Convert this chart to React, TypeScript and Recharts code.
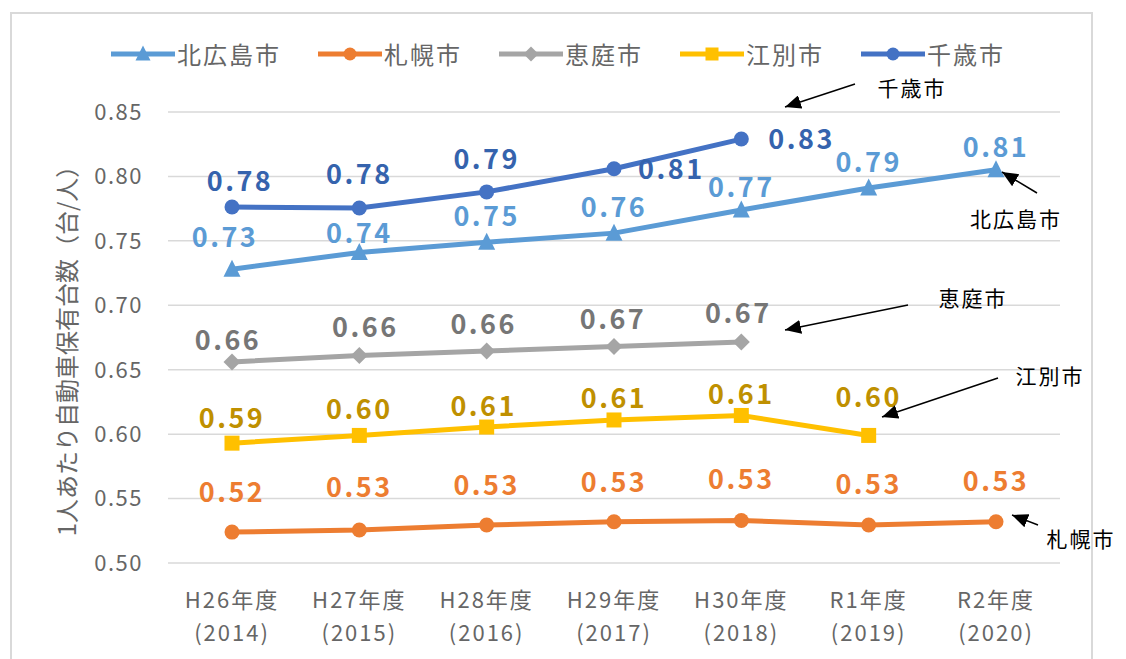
import { LineChart, Line, XAxis, YAxis, CartesianGrid, LabelList } from "recharts";

const periods = ["H26年度", "H27年度", "H28年度", "H29年度", "H30年度", "R1年度", "R2年度"];
const years = ["(2014)", "(2015)", "(2016)", "(2017)", "(2018)", "(2019)", "(2020)"];

const kitahiroshima = [0.728, 0.741, 0.749, 0.756, 0.774, 0.791, 0.8052];
const sapporo = [0.524, 0.5256, 0.5295, 0.532, 0.533, 0.5295, 0.532];
const eniwa = [0.656, 0.661, 0.6645, 0.668, 0.6715, null, null];
const ebetsu = [0.593, 0.599, 0.6055, 0.611, 0.6145, 0.599, null];
const chitose = [0.7763, 0.7755, 0.788, 0.806, 0.829, null, null];

const yTicks = [0.5, 0.55, 0.6, 0.65, 0.7, 0.75, 0.8, 0.85];

const FONT = '"Noto Sans CJK JP", "Noto Sans", sans-serif';

// label offsets from each point: [dx, dy, anchor]
type Off = [number, number, ("middle" | "start")?];
const chitoseOff: Off[] = [[8, -27], [0, -35], [0, -34], [24, -1, "start"], [27, -2, "start"]];
const kitaOff: Off[] = [[-7, -34], [0, -21], [0, -28], [0, -28], [0, -24], [0, -28], [0, -24]];
const eniwaOff: Off[] = [[-4, -23], [6, -30], [-3, -29], [-1, -29], [-3, -31]];
const ebetsuOff: Off[] = [[0, -27], [0, -28], [-3, -23], [0, -23], [0, -23], [0, -40]];
const sapporoOff: Off[] = [[0, -42], [0, -45], [0, -41], [0, -41], [0, -43], [0, -42], [0, -42]];

const series = [
  { key: "kita", name: "北広島市", color: "#5B9BD5", labelColor: "#5B9BD5", shape: "triangle", values: kitahiroshima, off: kitaOff },
  { key: "sapporo", name: "札幌市", color: "#ED7D31", labelColor: "#ED7D31", shape: "circle", values: sapporo, off: sapporoOff },
  { key: "eniwa", name: "恵庭市", color: "#A5A5A5", labelColor: "#767676", shape: "diamond", values: eniwa, off: eniwaOff },
  { key: "ebetsu", name: "江別市", color: "#FFC000", labelColor: "#BF9000", shape: "square", values: ebetsu, off: ebetsuOff },
  { key: "chitose", name: "千歳市", color: "#4472C4", labelColor: "#3563AD", shape: "circle", values: chitose, off: chitoseOff },
];

const data = periods.map((p, i) => {
  const row: Record<string, any> = { period: p };
  series.forEach((s) => (row[s.key] = s.values[i]));
  return row;
});

const notes = [
  { text: "千歳市", tx: 912, ty: 87, x1: 855, y1: 84, x2: 785, y2: 107 },
  { text: "北広島市", tx: 1016, ty: 218, x1: 1037, y1: 193, x2: 1002, y2: 172 },
  { text: "恵庭市", tx: 973, ty: 297, x1: 908, y1: 305, x2: 785, y2: 330 },
  { text: "江別市", tx: 1050, ty: 375, x1: 998, y1: 378, x2: 882, y2: 417 },
  { text: "札幌市", tx: 1081, ty: 538, x1: 1038, y1: 525, x2: 1012, y2: 515 },
];

function Marker({ shape, cx, cy, color, size = 15 }: any) {
  const h = size / 2;
  if (shape === "circle") return <circle cx={cx} cy={cy} r={h} fill={color} />;
  if (shape === "square") return <rect x={cx - h} y={cy - h} width={size} height={size} fill={color} />;
  if (shape === "diamond")
    return <polygon points={`${cx},${cy - h - 1} ${cx + h + 1},${cy} ${cx},${cy + h + 1} ${cx - h - 1},${cy}`} fill={color} />;
  return <polygon points={`${cx},${cy - h - 2} ${cx + h + 1},${cy + h} ${cx - h - 1},${cy + h}`} fill={color} />;
}

function XTick({ x, y, index }: any) {
  // y is the tick origin just below the plot
  const base = 563;
  return (
    <g>
      <text x={x} y={base + 45} textAnchor="middle" fontSize={22} fill="#666" letterSpacing={2} fontFamily={FONT}>
        {periods[index]}
      </text>
      <text x={x} y={base + 78} textAnchor="middle" fontSize={22} fill="#666" letterSpacing={2} fontFamily={FONT}>
        {years[index]}
      </text>
    </g>
  );
}

function makeLabel(color: string, off: Off[]) {
  return (props: any) => {
    const { value, index } = props;
    const x = props.x ?? props.viewBox?.x;
    const y = props.y ?? props.viewBox?.y;
    if (value == null || x == null) return null;
    const [dx, dy, anchor] = off[index] ?? [0, -28];
    return (
      <text
        x={x + dx}
        y={y + dy}
        fill={color}
        fontSize={27}
        fontWeight="bold"
        letterSpacing={2.5}
        textAnchor={anchor ?? "middle"}
        dominantBaseline="central"
        fontFamily={FONT}
      >
        {Number(value).toFixed(2)}
      </text>
    );
  };
}

export default function App() {
  return (
    <div style={{ position: "relative", width: 1126, height: 659, background: "#fff", overflow: "hidden", fontFamily: FONT }}>
      <style>{"body{margin:0}"}</style>
      <div style={{ position: "absolute", left: 10, top: 12, width: 1083, height: 700, border: "2px solid #D9D9D9", boxSizing: "border-box" }} />

      <LineChart width={1126} height={659} data={data} margin={{ top: 112, right: 66, bottom: 0, left: 0 }}>
        <CartesianGrid vertical={false} stroke="#D9D9D9" strokeWidth={1.5} />
        <XAxis
          dataKey="period"
          height={96}
          axisLine={false}
          tickLine={false}
          interval={0}
          padding={{ left: 64, right: 64 }}
          tick={<XTick />}
        />
        <YAxis
          width={168}
          domain={[0.5, 0.85]}
          ticks={yTicks}
          axisLine={false}
          tickLine={false}
          tickSize={0}
          tickMargin={25}
          tickFormatter={(v: number) => v.toFixed(2)}
          tick={{ fontSize: 22, fill: "#666", fontFamily: FONT, letterSpacing: 1.5 }}
        />
        {series.map((s) => (
          <Line
            key={s.key}
            dataKey={s.key}
            stroke={s.color}
            strokeWidth={5}
            isAnimationActive={false}
            activeDot={false}
            dot={(p: any) =>
              p.cy == null || p.value == null ? (
                <g key={p.index} />
              ) : (
                <Marker key={p.index} shape={s.shape} cx={p.cx} cy={p.cy} color={s.color} />
              )
            }
          >
            <LabelList dataKey={s.key} content={makeLabel(s.labelColor, s.off)} />
          </Line>
        ))}
      </LineChart>

      {/* legend */}
      <div style={{ position: "absolute", left: 111, top: 38, height: 32, display: "flex", alignItems: "center", gap: 37 }}>
        {series.map((s) => (
          <div key={s.key} style={{ display: "flex", alignItems: "center", gap: 2 }}>
            <svg width={64} height={20}>
              <line x1={0} y1={10} x2={64} y2={10} stroke={s.color} strokeWidth={5} strokeLinecap="round" />
              <Marker shape={s.shape} cx={32} cy={10} color={s.color} size={13} />
            </svg>
            <span style={{ fontSize: 24, color: "#666", letterSpacing: 2, lineHeight: "32px" }}>{s.name}</span>
          </div>
        ))}
      </div>

      {/* y title and annotations */}
      <svg width={1126} height={659} style={{ position: "absolute", left: 0, top: 0, pointerEvents: "none" }}>
        <defs>
          <marker id="arr" markerUnits="userSpaceOnUse" markerWidth={18} markerHeight={14} refX={16} refY={7} orient="auto">
            <polygon points="0,0 16,7 0,14" fill="#000" />
          </marker>
        </defs>
        <text
          x={65}
          y={345}
          transform="rotate(-90 65 345)"
          textAnchor="middle"
          dominantBaseline="central"
          fontSize={24}
          fill="#666"
          fontFamily={FONT}
        >
          1人あたり自動車保有台数（台/人）
        </text>
        {notes.map((n) => (
          <g key={n.text}>
            <line x1={n.x1} y1={n.y1} x2={n.x2} y2={n.y2} stroke="#000" strokeWidth={1.5} markerEnd="url(#arr)" />
            <text x={n.tx} y={n.ty} textAnchor="middle" dominantBaseline="central" fontSize={21} letterSpacing={2} fill="#000" fontFamily={FONT}>
              {n.text}
            </text>
          </g>
        ))}
      </svg>
    </div>
  );
}
